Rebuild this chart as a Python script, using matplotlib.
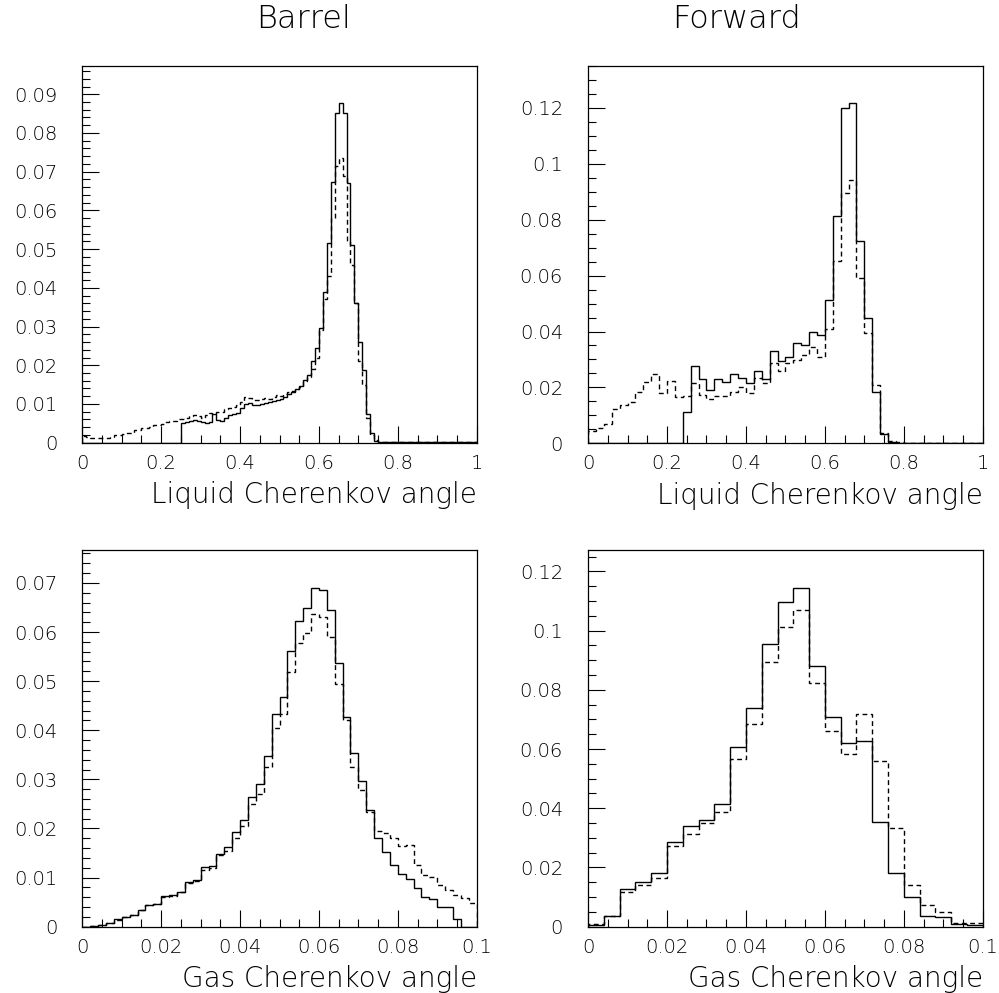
import numpy as np
import matplotlib.pyplot as plt
from matplotlib.ticker import MultipleLocator, FixedLocator, FixedFormatter

plt.rcParams['font.family'] = ['DejaVu Sans']
plt.rcParams['font.weight'] = 'light'
plt.rcParams['axes.labelweight'] = 'light'

# --- data: normalised histogram contents ---
# Barrel, liquid angle: 100 bins on [0, 1]
liq_barrel_solid = [0.0] * 25 + [
    0.0052, 0.0053, 0.0055, 0.0059, 0.0057, 0.0054, 0.0052, 0.0054, 0.0075, 0.0058,
    0.0057, 0.0063, 0.0072, 0.0075, 0.0078, 0.0090, 0.0101, 0.0103, 0.0097, 0.0098,
    0.0100, 0.0102, 0.0104, 0.0107, 0.0110, 0.0112, 0.0117, 0.0125, 0.0130, 0.0138,
    0.0146, 0.0163, 0.0176, 0.0210, 0.0244, 0.0296, 0.0390, 0.0515, 0.0674, 0.0851,
    0.0877, 0.0851, 0.0670, 0.0510, 0.0360, 0.0260, 0.0187, 0.0075, 0.0024, 0.0005,
] + [0.0002] * 5 + [0.0001] * 20
liq_barrel_dash = [
    0.0017, 0.0014, 0.0013, 0.0011, 0.0012, 0.0013, 0.0013, 0.0016, 0.0020, 0.0019,
    0.0023, 0.0024, 0.0026, 0.0032, 0.0033, 0.0037, 0.0039, 0.0041, 0.0045, 0.0046,
    0.0049, 0.0053, 0.0055, 0.0057, 0.0060, 0.0062, 0.0063, 0.0068, 0.0071, 0.0069,
    0.0065, 0.0072, 0.0076, 0.0074, 0.0080, 0.0079, 0.0088, 0.0090, 0.0093, 0.0097,
    0.0105, 0.0118, 0.0116, 0.0111, 0.0110, 0.0113, 0.0115, 0.0114, 0.0118, 0.0122,
    0.0121, 0.0125, 0.0130, 0.0133, 0.0138, 0.0145, 0.0160, 0.0170, 0.0190, 0.0220,
    0.0290, 0.0370, 0.0430, 0.0580, 0.0715, 0.0735, 0.0690, 0.0520, 0.0460, 0.0360,
    0.0210, 0.0150, 0.0065, 0.0020, 0.0006, 0.0003,
] + [0.0002] * 24

# Forward, liquid angle: 50 bins on [0, 1]
liq_fwd_solid = [0.0] * 12 + [
    0.0113, 0.0275, 0.0230, 0.0192, 0.0230, 0.0221, 0.0248, 0.0234, 0.0216, 0.0258,
    0.0230, 0.0332, 0.0296, 0.0308, 0.0358, 0.0352, 0.0398, 0.0386, 0.0513, 0.0812,
    0.1198, 0.1216, 0.0724, 0.0448, 0.0185, 0.0033, 0.0006,
] + [0.0] * 11
liq_fwd_dash = [
    0.0045, 0.0056, 0.0068, 0.0122, 0.0137, 0.0149, 0.0185, 0.0220, 0.0247, 0.0179,
    0.0224, 0.0164, 0.0170, 0.0215, 0.0173, 0.0158, 0.0170, 0.0170, 0.0185, 0.0203,
    0.0179, 0.0233, 0.0215, 0.0287, 0.0260, 0.0287, 0.0298, 0.0316, 0.0346, 0.0308,
    0.0410, 0.0654, 0.0896, 0.0941, 0.0592, 0.0394, 0.0207, 0.0036, 0.0010, 0.0003,
] + [0.0] * 10

# Barrel, gas angle: 50 bins on [0, 0.1]
gas_barrel_solid = [
    0.0, 0.0001, 0.0003, 0.0007, 0.0015, 0.0020, 0.0024, 0.0035, 0.0044, 0.0046,
    0.0062, 0.0064, 0.0071, 0.0091, 0.0095, 0.0121, 0.0123, 0.0149, 0.0163, 0.0193,
    0.0217, 0.0265, 0.0290, 0.0347, 0.0434, 0.0467, 0.0562, 0.0622, 0.0648, 0.0689,
    0.0685, 0.0645, 0.0536, 0.0427, 0.0353, 0.0297, 0.0237, 0.0180, 0.0152, 0.0126,
    0.0108, 0.0098, 0.0078, 0.0061, 0.0057, 0.0041, 0.0041, 0.0016, 0.0, 0.0,
]
gas_barrel_dash = [
    0.0, 0.0001, 0.0003, 0.0007, 0.0014, 0.0019, 0.0024, 0.0034, 0.0044, 0.0046,
    0.0060, 0.0063, 0.0070, 0.0088, 0.0093, 0.0115, 0.0120, 0.0145, 0.0155, 0.0180,
    0.0205, 0.0250, 0.0270, 0.0326, 0.0404, 0.0434, 0.0519, 0.0577, 0.0597, 0.0636,
    0.0630, 0.0590, 0.0495, 0.0420, 0.0326, 0.0278, 0.0234, 0.0195, 0.0190, 0.0180,
    0.0165, 0.0166, 0.0125, 0.0105, 0.0102, 0.0085, 0.0075, 0.0064, 0.0058, 0.0049,
]

# Forward, gas angle: 25 bins on [0, 0.1]
gas_fwd_solid = [
    0.0006, 0.0037, 0.0126, 0.0152, 0.0180, 0.0287, 0.0340, 0.0360, 0.0414, 0.0606,
    0.0737, 0.0953, 0.1097, 0.1142, 0.0880, 0.0707, 0.0619, 0.0626, 0.0352, 0.0180,
    0.0101, 0.0036, 0.0032, 0.0009, 0.0006,
]
gas_fwd_dash = [
    0.0009, 0.0037, 0.0118, 0.0141, 0.0165, 0.0273, 0.0313, 0.0349, 0.0388, 0.0566,
    0.0683, 0.0895, 0.1013, 0.1069, 0.0824, 0.0661, 0.0583, 0.0717, 0.0559, 0.0334,
    0.0141, 0.0073, 0.0051, 0.0011, 0.0011,
]

col_titles = ['Barrel', 'Forward']
xlabels = ['Liquid Cherenkov angle', 'Gas Cherenkov angle']

liq_xticks = [0, 0.2, 0.4, 0.6, 0.8, 1.0]
liq_xticklabels = ['0', '0.2', '0.4', '0.6', '0.8', '1']
gas_xticks = [0, 0.02, 0.04, 0.06, 0.08, 0.1]
gas_xticklabels = ['0', '0.02', '0.04', '0.06', '0.08', '0.1']

yt_barrel_liq = [0, 0.01, 0.02, 0.03, 0.04, 0.05, 0.06, 0.07, 0.08, 0.09]
ytl_barrel_liq = ['0', '0.01', '0.02', '0.03', '0.04', '0.05', '0.06', '0.07', '0.08', '0.09']
yt_barrel_gas = [0, 0.01, 0.02, 0.03, 0.04, 0.05, 0.06, 0.07]
ytl_barrel_gas = ['0', '0.01', '0.02', '0.03', '0.04', '0.05', '0.06', '0.07']
yt_fwd = [0, 0.02, 0.04, 0.06, 0.08, 0.1, 0.12]
ytl_fwd = ['0', '0.02', '0.04', '0.06', '0.08', '0.1', '0.12']

W, H = 999, 993
fig = plt.figure(figsize=(W / 100, H / 100), dpi=100)


def px_axes(x0, x1, ytop, ybot):
    return fig.add_axes([x0 / W, 1 - ybot / H, (x1 - x0) / W, (ybot - ytop) / H])


panels = [
    # (rect px, solid, dashed, xrange, ymax, xticks, xticklabels, xminor, yticks, yticklabels, yminor, xlabel)
    ((82.3, 476.7, 66, 442.7), liq_barrel_solid, liq_barrel_dash, 1.0, 0.0973,
     liq_xticks, liq_xticklabels, 0.05, yt_barrel_liq, ytl_barrel_liq, 0.002, xlabels[0]),
    ((588.1, 982.7, 66, 443.3), liq_fwd_solid, liq_fwd_dash, 1.0, 0.135,
     liq_xticks, liq_xticklabels, 0.05, yt_fwd, ytl_fwd, 0.005, xlabels[0]),
    ((82.3, 476.7, 550, 926.7), gas_barrel_solid, gas_barrel_dash, 0.1, 0.0767,
     gas_xticks, gas_xticklabels, 0.005, yt_barrel_gas, ytl_barrel_gas, 0.002, xlabels[1]),
    ((588.1, 982.7, 550, 926.7), gas_fwd_solid, gas_fwd_dash, 0.1, 0.1272,
     gas_xticks, gas_xticklabels, 0.005, yt_fwd, ytl_fwd, 0.005, xlabels[1]),
]

for rect, solid, dash, xr, ymax, xt, xtl, xmin, yt, ytl, ymin, xl in panels:
    ax = px_axes(*rect)
    edges = np.linspace(0, xr, len(solid) + 1)
    ax.stairs(solid, edges, color='k', lw=1.0)
    ax.stairs(dash, edges, color='k', lw=1.0, linestyle=(0, (3.5, 2.5)))
    ax.set_xlim(0, xr)
    ax.set_ylim(0, ymax)
    ax.xaxis.set_major_locator(FixedLocator(xt))
    ax.xaxis.set_major_formatter(FixedFormatter(xtl))
    ax.yaxis.set_major_locator(FixedLocator(yt))
    ax.yaxis.set_major_formatter(FixedFormatter(ytl))
    ax.xaxis.set_minor_locator(MultipleLocator(xmin))
    ax.yaxis.set_minor_locator(MultipleLocator(ymin))
    ax.tick_params(which='both', direction='in', top=False, right=False,
                   width=0.8, color='k')
    ax.tick_params(which='major', length=12, labelsize=14, labelcolor='k')
    ax.tick_params(which='minor', length=6)
    ax.tick_params(axis='x', which='major', pad=8)
    ax.tick_params(axis='y', which='major', pad=18)
    for s in ax.spines.values():
        s.set_linewidth(0.9)
    ax.set_xlabel(xl, fontsize=20, color='k', fontweight='light',
                  loc='right', labelpad=6)

fig.text(304 / W, 1 - 19 / H, col_titles[0], fontsize=23, color='k',
         fontweight='light', ha='center', va='center')
fig.text(736 / W, 1 - 19 / H, col_titles[1], fontsize=23, color='k',
         fontweight='light', ha='center', va='center')

fig.savefig('out.png', dpi=100)
